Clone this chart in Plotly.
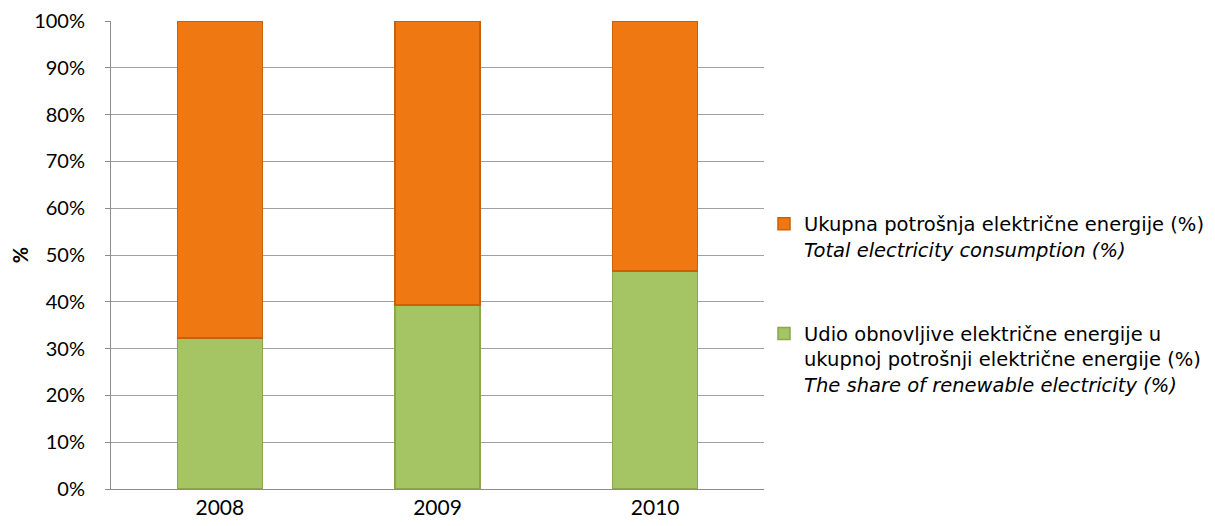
import plotly.graph_objects as go

years = ["2008", "2009", "2010"]
renewable = [32.3, 39.3, 46.6]
total = [100 - v for v in renewable]

name_total = "Ukupna potrošnja električne energije (%)<br><i>Total electricity consumption (%)</i>"
name_ren = ("Udio obnovljive električne energije u<br>ukupnoj potrošnji električne energije (%)"
            "<br><i>The share of renewable electricity (%)</i>")

fig = go.Figure()
fig.add_trace(go.Bar(x=years, y=renewable, name=name_ren, legendgroup="g", legendrank=2,
                     marker=dict(color="#A5C463", line=dict(color="#8AA64E", width=1.5))))
fig.add_trace(go.Bar(x=years, y=total, name=name_total, legendgroup="o", legendrank=1,
                     marker=dict(color="#F07812", line=dict(color="#C9600A", width=1.5))))

font = "Lato, Open Sans, sans-serif"
fig.update_layout(
    barmode="stack",
    bargap=0.61,
    width=1215, height=526,
    margin=dict(l=103, r=459, t=13, b=45, autoexpand=False),
    plot_bgcolor="white", paper_bgcolor="white",
    font=dict(family=font, size=20, color="#000000"),
    legend=dict(x=1.0, y=0.395, yanchor="middle", xanchor="left",
                traceorder="grouped", tracegroupgap=56, valign="top",
                font=dict(family="DejaVu Sans, sans-serif", size=19.5), itemwidth=30),
    yaxis=dict(range=[0, 100], dtick=10, ticksuffix="%", showgrid=True,
               gridcolor="#A0A0A0", gridwidth=1, showline=True, linecolor="#8C8C8C",
               ticks="outside", ticklen=5, tickcolor="#8C8C8C",
               ticklabeloverflow="allow", ticklabelstandoff=16,
               title=dict(text="<b>%</b>", font=dict(size=20), standoff=6),
               tickfont=dict(size=20)),
    xaxis=dict(showline=True, linecolor="#8C8C8C", ticks="", tickfont=dict(size=21)),
)
fig.write_html("out.html")
